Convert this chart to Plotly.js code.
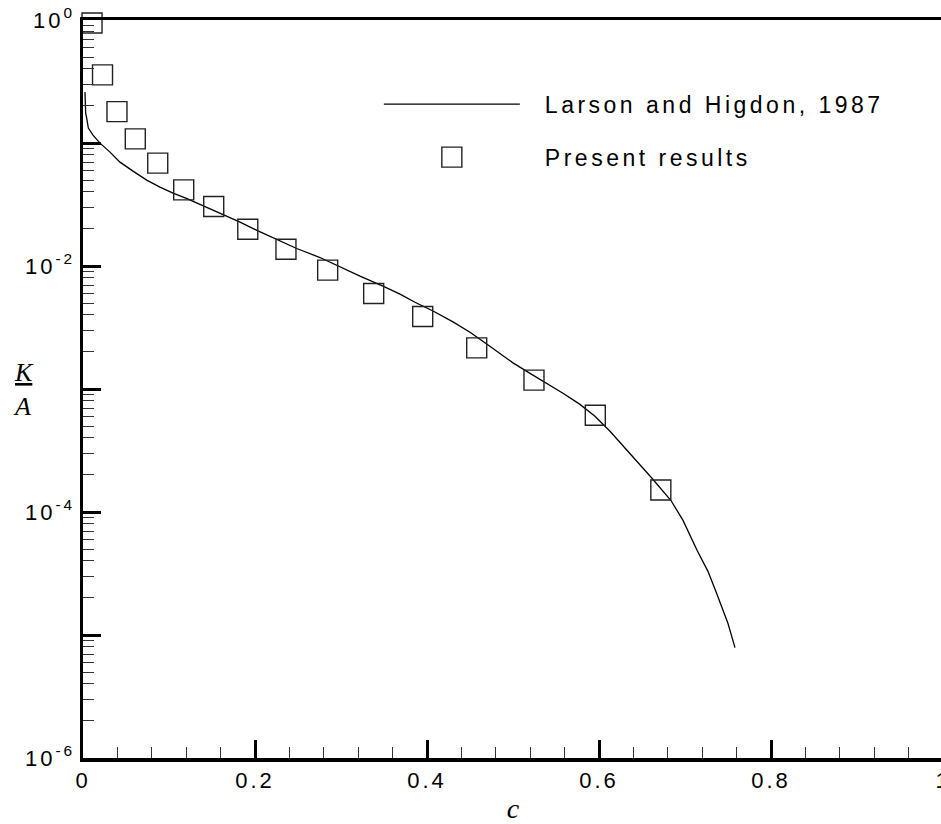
<!DOCTYPE html>
<html><head><meta charset="utf-8">
<script src="https://cdn.plot.ly/plotly-3.0.1.min.js"></script>
<style>
html,body{margin:0;padding:0;overflow:hidden;background:#fff}
#chart{width:950px;height:824px}
.xtick text,.ytick text{letter-spacing:3px}
.legendtext{letter-spacing:3.5px}
</style></head><body><div id="chart"></div>
<script>
const lineName = 'Larson and Higdon, 1987';
const pointsName = 'Present results';

const lineC = [0.0023,0.0031,0.0043,0.0062,0.0116,0.0198,0.0314,0.0430,0.0581,0.0741,0.0895,0.1047,0.1209,0.1360,0.1628,0.1826,0.2035,0.2256,0.2485,0.2756,0.2965,0.3221,0.3488,0.3686,0.3860,0.4070,0.4302,0.4500,0.4698,0.5000,0.5198,0.5395,0.5581,0.5779,0.5953,0.6128,0.6360,0.6616,0.6837,0.6977,0.7140,0.7267,0.7372,0.7407,0.7500,0.7581];
const lineKA = [0.2597,0.175,0.1595,0.1322,0.1160,0.0998,0.0843,0.0699,0.0591,0.0499,0.0438,0.0391,0.0353,0.0318,0.0262,0.0227,0.0193,0.0164,0.01387,0.01172,0.00996,0.00826,0.00685,0.00590,0.00507,0.00431,0.00351,0.00289,0.00231,0.00163,0.00134,0.00111,0.000923,0.000750,0.000600,0.000453,0.000300,0.000188,0.000124,0.0000855,0.0000488,0.0000329,0.0000214,0.0000184,0.0000124,0.0000079];

const presentC = [0.0105,0.0227,0.0395,0.0608,0.0869,0.1171,0.152,0.1916,0.236,0.2845,0.338,0.395,0.4578,0.5244,0.5957,0.6719];
const presentKA = [0.945,0.358,0.180,0.108,0.0686,0.0416,0.0305,0.0199,0.0137,0.00925,0.00597,0.00388,0.00216,0.00118,0.000611,0.000151];

const xTickVals = [0,0.2,0.4,0.6,0.8,1];
const xTickText = ['0','0.2','0.4','0.6','0.8','1'];
const yTickVals = [1e-6,1e-4,1e-2,1];
const yTickText = ['10<sup>-6</sup>','10<sup>-4</sup>','10<sup>-2</sup>','10<sup>0</sup>'];
const yUnlabeledMajor = [1e-5,1e-3,1e-1];

const yMinorVals = [];
for (let d = -6; d < 0; d++) for (let k = 2; k <= 9; k++) yMinorVals.push(k * Math.pow(10, d));

const tickFont = {family:'Liberation Sans, Arial, sans-serif', size:22, color:'#000'};

const traces = [
  {x: lineC, y: lineKA, name: lineName, type:'scatter', mode:'lines',
   line:{color:'#000', width:1.3}, legendgroup:'a', cliponaxis:false},
  {x: presentC, y: presentKA, name: pointsName, type:'scatter', mode:'markers',
   marker:{symbol:'square-open', size:20, color:'#222', line:{width:1.4, color:'#222'}},
   legendgroup:'b', cliponaxis:false},
  // invisible copy so that the overlaying axis (unlabelled decade ticks) is drawn
  {x: lineC, y: lineKA, yaxis:'y2', type:'scatter', mode:'lines', opacity:0,
   line:{color:'rgba(0,0,0,0)', width:0}, showlegend:false, hoverinfo:'skip'}
];

const layout = {
  width:950, height:824,
  margin:{l:83, r:7, t:20, b:66},
  paper_bgcolor:'#fff', plot_bgcolor:'#fff',
  showlegend:true,
  legend:{x:0.344, y:0.915, xanchor:'left', yanchor:'top', bgcolor:'rgba(0,0,0,0)',
    font:{family:'Liberation Sans, Arial, sans-serif', size:23, color:'#000'},
    itemwidth:156, traceorder:'grouped', tracegroupgap:20},
  xaxis:{type:'linear', range:[0,1], showgrid:false, zeroline:false,
    showline:true, linewidth:3.5, linecolor:'#000', mirror:true,
    ticks:'inside', ticklen:18, tickwidth:3, tickcolor:'#000',
    tickmode:'array', tickvals:xTickVals, ticktext:xTickText, tickfont:tickFont,
    ticklabeloverflow:'allow',
    minor:{dtick:0.04, ticks:'inside', ticklen:11, tickwidth:1, tickcolor:'#333', showgrid:false},
    title:{text:'<i>c</i>', font:{family:'Liberation Serif, Times New Roman, serif', size:28, color:'#000'}, standoff:8},
    automargin:false},
  yaxis:{type:'log', range:[-6,0], showgrid:false, zeroline:false,
    showline:true, linewidth:3.5, linecolor:'#000', mirror:true,
    ticks:'inside', ticklen:18, tickwidth:3, tickcolor:'#000',
    tickmode:'array', tickvals:yTickVals, ticktext:yTickText, tickfont:tickFont,
    minor:{tickmode:'array', tickvals:yMinorVals, ticks:'inside', ticklen:11, tickwidth:1, tickcolor:'#333', showgrid:false},
    automargin:false},
  yaxis2:{type:'log', range:[-6,0], overlaying:'y', side:'left', showgrid:false, zeroline:false,
    showline:false, ticks:'inside', ticklen:18, tickwidth:3, tickcolor:'#000',
    tickmode:'array', tickvals:yUnlabeledMajor, showticklabels:false, automargin:false},
  annotations:[
    {xref:'paper', yref:'paper', x:-0.083, y:0.523, text:'<i><u>K</u></i>', showarrow:false,
     font:{family:'Liberation Serif, Times New Roman, serif', size:26, color:'#000'}},
    {xref:'paper', yref:'paper', x:-0.084, y:0.476, text:'<i>A</i>', showarrow:false,
     font:{family:'Liberation Serif, Times New Roman, serif', size:26, color:'#000'}}
  ]
};

Plotly.newPlot('chart', traces, layout, {staticPlot:true}).then(function(){
  document.querySelectorAll('.legend .legendlines path').forEach(function(p){
    p.setAttribute('d', 'M5,0h136');
  });
  document.querySelectorAll('.legend .legendpoints path.scatterpts').forEach(function(p){
    p.setAttribute('d', 'M0,10H-20V-10H0Z');
  });
});
</script></body></html>
